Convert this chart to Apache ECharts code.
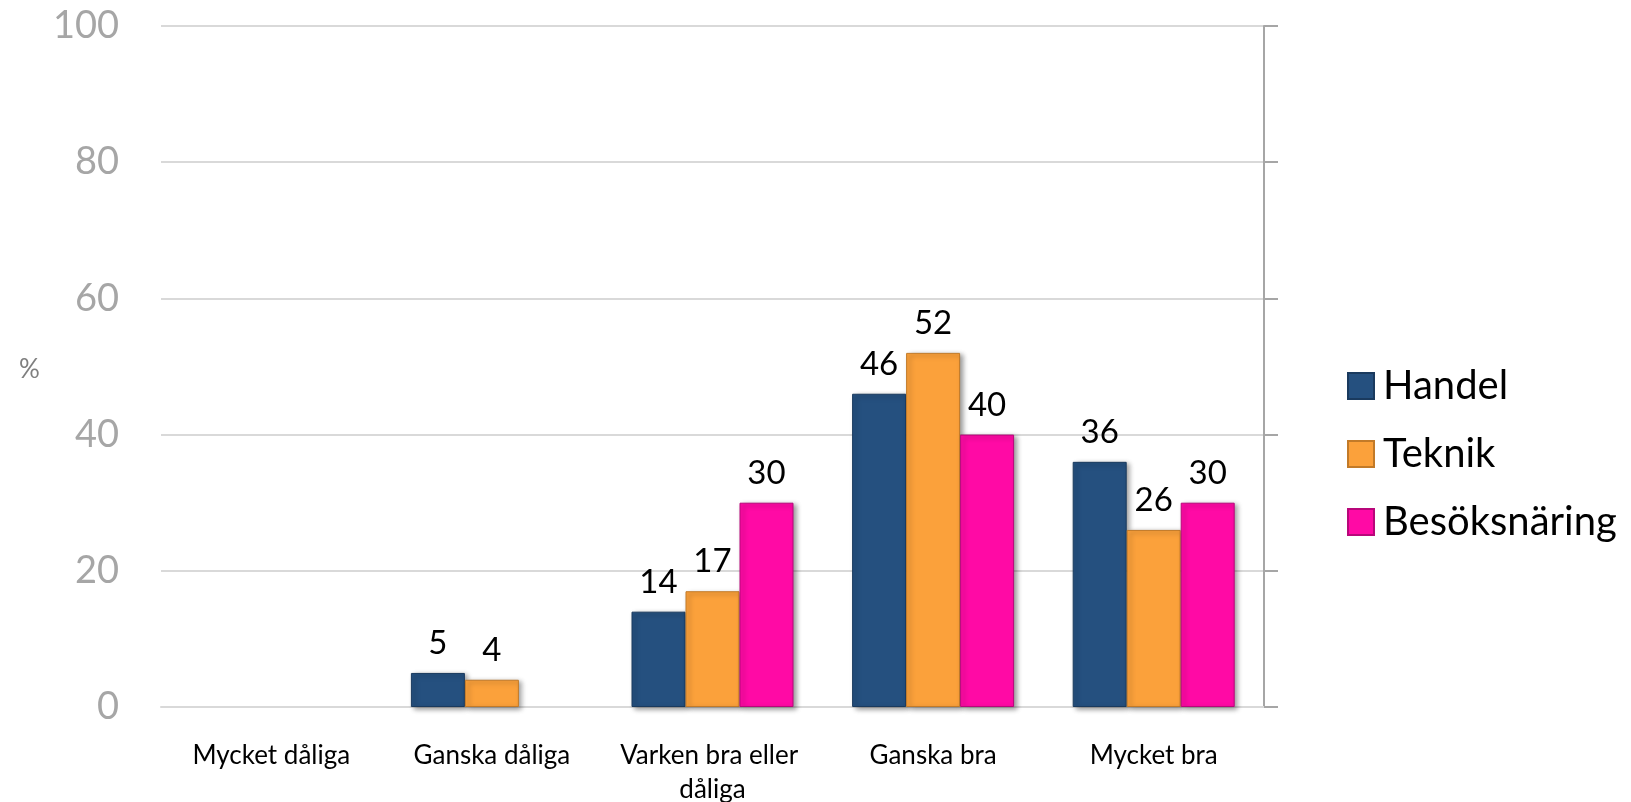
<!DOCTYPE html>
<html>
<head>
<meta charset="utf-8">
<script src="https://cdn.jsdelivr.net/npm/echarts@6/dist/echarts.min.js"></script>
<style>
html,body{margin:0;padding:0;background:#fff;}
#c{width:1631px;height:802px;}
</style>
</head>
<body>
<div id="c"></div>
<script>
const categories = ['Mycket dåliga', 'Ganska dåliga', 'Varken bra eller dåliga', 'Ganska bra', 'Mycket bra'];
const handel = [null, 5, 14, 46, 36];
const teknik = [null, 4, 17, 52, 26];
const besoksnaring = [null, null, 30, 40, 30];
const seriesNames = ['Handel', 'Teknik', 'Besöksnäring'];
const yTicks = [0, 20, 40, 60, 80, 100];

const colors = ['#25507f', '#fba13b', '#ff0aa5'];
const borders = ['#1a3a5e', '#c27a28', '#b8077a'];
const font = 'Lato, "Open Sans", sans-serif';

function mkSeries(name, data, i) {
  return {
    name: name,
    type: 'bar',
    data: data,
    barWidth: 54,
    barGap: '0%',
    itemStyle: {
      color: colors[i],
      borderColor: borders[i],
      borderWidth: 1,
      shadowColor: 'rgba(0,0,0,0.4)',
      shadowBlur: 5,
      shadowOffsetX: 3,
      shadowOffsetY: 2
    },
    label: {
      show: true,
      position: 'top',
      distance: 13,
      color: '#000',
      fontSize: 33,
      fontFamily: font
    }
  };
}

const chart = echarts.init(document.getElementById('c'));
chart.setOption({
  animation: false,
  backgroundColor: '#fff',
  title: {
    text: '%',
    left: 14,
    top: 352,
    textStyle: { color: '#7f7f7f', fontSize: 26, fontWeight: 'normal', fontFamily: font }
  },
  legend: {
    orient: 'vertical',
    left: 1342,
    top: 361,
    itemWidth: 26,
    itemHeight: 26,
    itemGap: 28,
    icon: 'rect',
    data: seriesNames,
    textStyle: { color: '#000', fontSize: 40, fontFamily: font, lineHeight: 26, padding: [0, 0, 0, 4] }
  },
  grid: { left: 161, right: 367, top: 26, bottom: 95, outerBoundsMode: 'none', containLabel: false },
  xAxis: {
    type: 'category',
    data: categories,
    axisLine: { show: true, lineStyle: { color: '#d9d9d9', width: 2 } },
    axisTick: { show: false },
    axisLabel: {
      color: '#000',
      fontSize: 26,
      fontFamily: font,
      margin: 32,
      width: 205,
      overflow: 'break',
      lineHeight: 34,
      interval: 0
    }
  },
  yAxis: [
    {
      type: 'value',
      min: yTicks[0],
      max: yTicks[yTicks.length - 1],
      interval: 20,
      axisLine: { show: false },
      axisTick: { show: false },
      axisLabel: { color: '#a6a6a6', fontSize: 38, fontFamily: font, margin: 42 },
      splitLine: { lineStyle: { color: '#d9d9d9', width: 2 } }
    },
    {
      type: 'value',
      position: 'right',
      min: yTicks[0],
      max: yTicks[yTicks.length - 1],
      interval: 20,
      axisLine: { show: true, lineStyle: { color: '#a6a6a6', width: 2 } },
      axisTick: { show: true, inside: false, length: 14, lineStyle: { color: '#a6a6a6', width: 2 } },
      axisLabel: { show: false },
      splitLine: { show: false }
    }
  ],
  series: [
    mkSeries(seriesNames[0], handel, 0),
    mkSeries(seriesNames[1], teknik, 1),
    mkSeries(seriesNames[2], besoksnaring, 2)
  ]
});
</script>
</body>
</html>
